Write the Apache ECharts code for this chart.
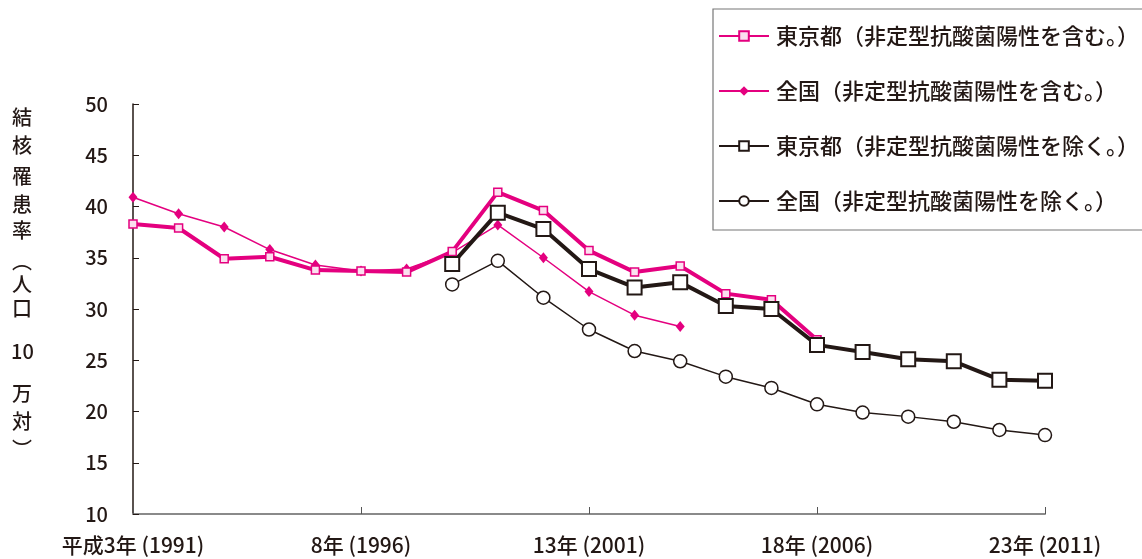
<!DOCTYPE html>
<html>
<head>
<meta charset="utf-8">
<script src="https://cdn.jsdelivr.net/npm/echarts@6/dist/echarts.min.js"></script>
<style>
html,body{margin:0;padding:0;background:#fff;}
#main{width:1142px;height:559px;}
</style>
</head>
<body>
<div id="main"></div>
<script>
var categories = ['平成3年 (1991)','4年 (1992)','5年 (1993)','6年 (1994)','7年 (1995)',
  '8年 (1996)','9年 (1997)','10年 (1998)','11年 (1999)','12年 (2000)',
  '13年 (2001)','14年 (2002)','15年 (2003)','16年 (2004)','17年 (2005)',
  '18年 (2006)','19年 (2007)','20年 (2008)','21年 (2009)','22年 (2010)','23年 (2011)'];

var tokyoIncl = [38.3, 37.9, 34.9, 35.1, 33.8, 33.7, 33.6, 35.6, 41.4, 39.6,
  35.7, 33.6, 34.2, 31.5, 30.9, 27.0, null, null, null, null, null];
var nationIncl = [40.9, 39.3, 38.0, 35.8, 34.3, 33.7, 33.9, 35.5, 38.2, 35.0,
  31.7, 29.4, 28.3, null, null, null, null, null, null, null, null];
var tokyoExcl = [null, null, null, null, null, null, null, 34.4, 39.4, 37.8,
  33.9, 32.1, 32.6, 30.3, 30.0, 26.5, 25.8, 25.1, 24.9, 23.1, 23.0];
var nationExcl = [null, null, null, null, null, null, null, 32.4, 34.7, 31.1,
  28.0, 25.9, 24.9, 23.4, 22.3, 20.7, 19.9, 19.5, 19.0, 18.2, 17.7];

var seriesNames = ['東京都（非定型抗酸菌陽性を含む。）','全国（非定型抗酸菌陽性を含む。）',
  '東京都（非定型抗酸菌陽性を除く。）','全国（非定型抗酸菌陽性を除く。）'];
var yTitleChars = ['結','核','罹','患','率','︵','人','口','10','万','対','︶'];

var PINK = '#e4007f', BLACK = '#231815';
var FONT = '"Noto Sans CJK JP", "Noto Sans", sans-serif';

var titleYs = [118,146,177,205,231,262,285,309,352,394,422,450];
var graphics = yTitleChars.map(function(c, i){
  return {type:'text', x: (c.length > 1 ? 11 : 12), y: titleYs[i] - 11, z: 10,
    style:{text:c, font:'500 20px ' + FONT, fill: BLACK}};
});

var chart = echarts.init(document.getElementById('main'), null, {renderer:'canvas'});
chart.setOption({
  backgroundColor:'#fff',
  animation:false,
  textStyle:{fontFamily: FONT},
  grid:{left:133, right:97, top:104, bottom:45, containLabel:false},
  legend:{
    orient:'vertical', left:713, top:9,
    padding:[16, 60, 18, 5],
    itemGap:33, itemWidth:50, itemHeight:12,
    borderColor:'#777', borderWidth:1.2, backgroundColor:'#fff',
    textStyle:{fontSize:22, fontWeight:500, color:BLACK, lineHeight:22, fontFamily:FONT, padding:[0,0,0,2]},
    data: seriesNames
  },
  xAxis:{
    type:'category', data:categories, boundaryGap:false,
    axisLine:{lineStyle:{color:'#8a8a8a', width:2}},
    axisTick:{inside:true, length:7, interval:4, lineStyle:{color:'#555', width:1}},
    axisLabel:{interval:4, margin:21, fontSize:21, fontWeight:500, color:BLACK, fontFamily:FONT},
    splitLine:{show:false}
  },
  yAxis:{
    type:'value', min:10, max:50, interval:5,
    axisLine:{show:true, lineStyle:{color:BLACK, width:1.5}},
    axisTick:{show:true, inside:true, length:6, lineStyle:{color:BLACK}},
    axisLabel:{fontSize:20, fontWeight:500, color:BLACK, margin:25, fontFamily:FONT},
    splitLine:{show:false}
  },
  graphic: graphics,
  series:[
    {name:seriesNames[0], type:'line', data:tokyoIncl, z:3,
      symbol:'rect', symbolSize:8,
      lineStyle:{color:PINK, width:4},
      itemStyle:{color:'#fbe0ef', borderColor:PINK, borderWidth:1.5}},
    {name:seriesNames[1], type:'line', data:nationIncl, z:2,
      symbol:'diamond', symbolSize:[9,11],
      lineStyle:{color:PINK, width:1.5},
      itemStyle:{color:PINK, borderColor:PINK, borderWidth:0}},
    {name:seriesNames[2], type:'line', data:tokyoExcl, z:4,
      symbol:'rect', symbolSize:14,
      lineStyle:{color:BLACK, width:4},
      itemStyle:{color:'#fff', borderColor:BLACK, borderWidth:2}},
    {name:seriesNames[3], type:'line', data:nationExcl, z:4,
      symbol:'circle', symbolSize:13,
      lineStyle:{color:BLACK, width:1.5},
      itemStyle:{color:'#fff', borderColor:BLACK, borderWidth:1.5}}
  ]
});
</script>
</body>
</html>
